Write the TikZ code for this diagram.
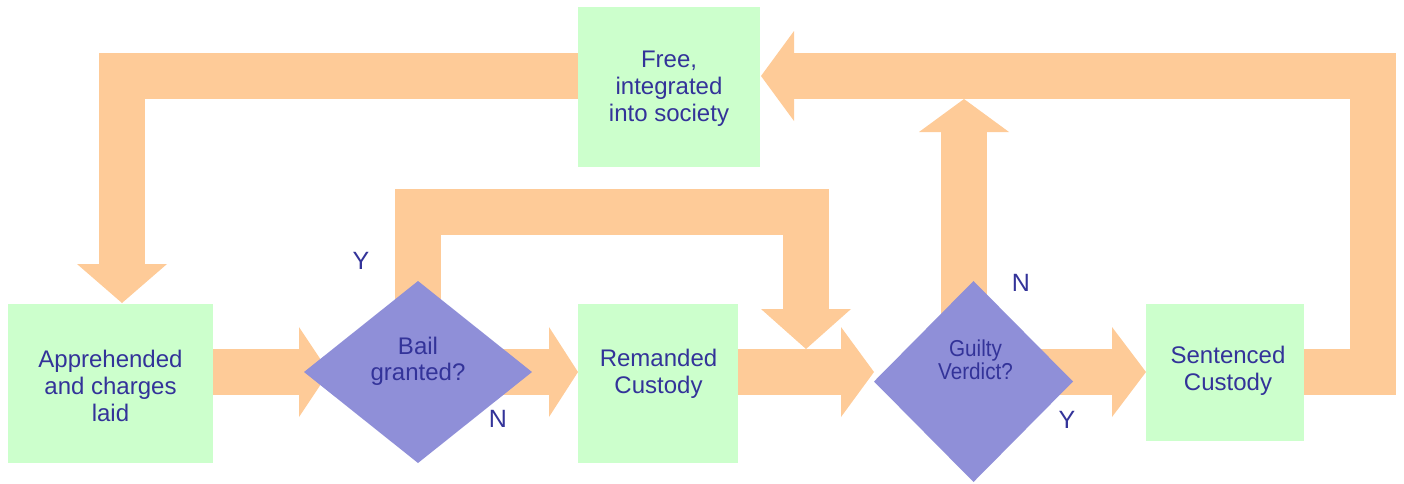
\documentclass[tikz,border=0pt]{standalone}
\usepackage{fontspec}
\setmainfont{Liberation Sans}
\newfontfamily\gvfont[FakeStretch=0.9]{Liberation Sans}
\usetikzlibrary{shapes.geometric,arrows.meta,calc,backgrounds}
\definecolor{bandc}{RGB}{254,203,152}
\definecolor{boxc}{RGB}{204,255,204}
\definecolor{decc}{RGB}{143,143,216}
\definecolor{txtc}{RGB}{51,51,153}
\begin{document}
\begin{tikzpicture}[x=1pt,y=-1pt,
  band/.style={draw=bandc, line width=46pt, line join=miter, line cap=butt},
  hd/.style={-{Triangle[width=90pt,length=#1,line width=0pt]}},
  boxnode/.style={rectangle, fill=boxc, inner sep=0pt, outer sep=0pt},
  decnode/.style={diamond, fill=decc, inner sep=0pt, outer sep=0pt},
  lbl/.style={align=center, text=txtc, font=\fontsize{24}{27}\selectfont, inner sep=0pt},
  yn/.style={text=txtc, font=\fontsize{25}{30}\selectfont, inner sep=0pt}
]
\useasboundingbox (0,0) rectangle (1404,483);

% nodes
\node[boxnode, minimum width=205pt, minimum height=159pt] (app) at (110.5,383.5) {};
\node[decnode, minimum width=228pt, minimum height=182pt] (bail) at (418,372) {};
\node[boxnode, minimum width=160pt, minimum height=159pt] (rem) at (658,383.5) {};
\node[boxnode, minimum width=182pt, minimum height=160pt] (free) at (669,87) {};
\node[decnode, minimum width=199pt, minimum height=201pt] (guilty) at (973.5,381.5) {};
\node[boxnode, minimum width=158pt, minimum height=137pt] (sent) at (1225,372.5) {};

% texts
\node[lbl] (apptxt) at ($(app.center)+(0,2.5)$) {Apprehended\\and charges\\laid};
\node[lbl] (freetxt) at ($(free.center)+(0,2)$) {Free,\\integrated\\into society};
\node[lbl] (remtxt) at ($(rem.center)+(0.5,-9.5)$) {Remanded\\Custody};
\node[lbl] (senttxt) at ($(sent.center)+(3,-2)$) {Sentenced\\Custody};
\node[lbl, font=\fontsize{24}{25.5}\selectfont] (bailtxt) at ($(bail.center)+(0,-10.5)$) {Bail\\granted?};
\node[lbl, font=\gvfont\fontsize{23}{23}\selectfont] (guiltytxt) at ($(guilty.center)+(2,-21.5)$) {Guilty\\Verdict?};

% Y / N labels
\node[yn] (bailY) at (361,260.5) {Y};
\node[yn] (bailN) at (498,419) {N};
\node[yn] (guiltyN) at (1021,282.5) {N};
\node[yn] (guiltyY) at (1067,419.5) {Y};

\coordinate (loopR) at ($(rem.east)!0.5!(guilty.west)$);

\begin{pgfonlayer}{background}
% free -> apprehended
\draw[band, hd=39pt] ($(free.west)+(0,-11)$) -| ($(app.north)+(11.5,-1)$);
% apprehended -> bail
\draw[band, hd=30pt] ($(app.east)+(0,-11.5)$) -- ($(bail.west)+(25,0)$);
% bail -> remanded (N)
\draw[band, hd=29pt] (bail.center) -- ($(rem.west)+(0,-11.5)$);
% bail -> loop (Y)
\draw[band, hd=40pt] (bail.center) -- ++(0,-160) -| ($(loopR)+(0,-33.5)$);
% remanded -> guilty
\draw[band, hd=33pt] ($(rem.east)+(0,-11.5)$) -- ($(guilty.west)+(0,-9.5)$);
% guilty -> sentenced (Y)
\draw[band, hd=34pt] ($(guilty.center)+(0,-9.5)$) -- ($(sent.west)+(0,-0.5)$);
% guilty -> up (N)
\draw[band, hd=33pt] ($(guilty.center)+(-9.5,0)$) -- ++(0,-282.5);
% sentenced -> free
\draw[band, hd=33pt] ($(sent.east)+(0,-0.5)$) -- ++(69,0) |- ($(free.east)+(1,-11)$);
\end{pgfonlayer}
\end{tikzpicture}
\end{document}
